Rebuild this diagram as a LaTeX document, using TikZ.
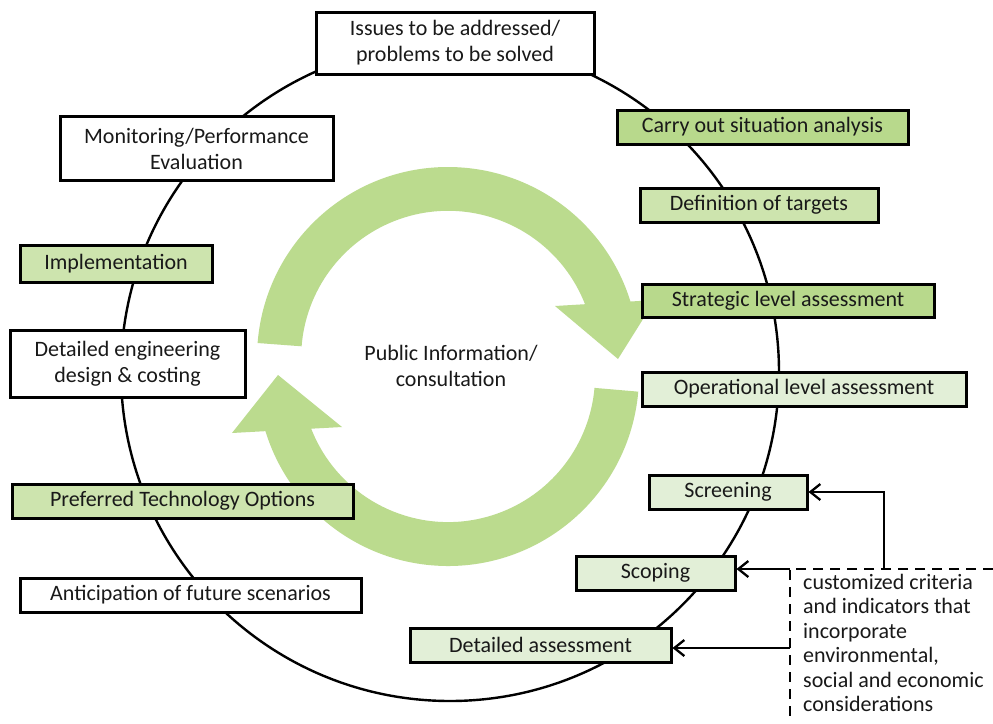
\documentclass[tikz,border=0pt]{standalone}
\usepackage{fontspec}
\setmainfont{Carlito}
\usetikzlibrary{arrows.meta,calc}
\definecolor{gdark}{HTML}{B8D98C}
\definecolor{gmid}{HTML}{CDE4AE}
\definecolor{glight}{HTML}{E2EFD7}
\definecolor{ringc}{HTML}{BBDB8E}
\tikzset{
  box/.style={draw=black, line width=3pt, inner sep=0pt, align=center,
    font=\fontsize{22}{26}\selectfont, text=black!90},
  conn/.style={draw=black, line width=2.3pt, -{Straight Barb[length=10pt,width=16pt,line width=2.3pt]}},
  dline/.style={draw=black, line width=2.3pt, dash pattern=on 10pt off 7pt},
}
\begin{document}
\begin{tikzpicture}[x=1pt,y=-1pt]
\useasboundingbox (0,0) rectangle (993,723);
\fill[white] (0,0) rectangle (993,723);
% big cycle
\draw[line width=2.4pt] (450,372) circle[radius=329];
% green ring arrows
\fill[ringc] ($(448,358)+(184.5:191)$) arc[start angle=184.5, end angle=342.8, radius=191]
  -- (655,300) -- (618,359) -- (555,306) -- (585,304.2)
  arc[start angle=338.6, end angle=184.5, radius=147] -- cycle;
\fill[ringc] ($(448,375)+(5:191)$) arc[start angle=5, end angle=162.9, radius=191]
  -- (232,433) -- (278,375) -- (342,427) -- (311.2,428.7)
  arc[start angle=158.6, end angle=5, radius=147] -- cycle;
\node[align=center, font=\fontsize{22}{26}\selectfont, text=black!90] (pub) at (451,366) {Public Information/\\consultation};
% boxes
\node[box, fill=white, minimum width=278pt, minimum height=62pt] (issues) at (455,43) {Issues to be addressed/\\problems to be solved};
\node[box, fill=gdark, minimum width=291pt, minimum height=34pt] (carry) at (762.5,127) {Carry out situation analysis};
\node[box, fill=gmid, minimum width=238pt, minimum height=34pt] (defn) at (759,205) {Definition of targets};
\node[box, fill=gdark, minimum width=292pt, minimum height=33pt] (strat) at (788,300.5) {Strategic level assessment};
\node[box, fill=glight, minimum width=324pt, minimum height=34pt] (oper) at (804,389) {Operational level assessment};
\node[box, fill=glight, minimum width=158pt, minimum height=34pt] (screen) at (728,492) {Screening};
\node[box, fill=glight, minimum width=159pt, minimum height=34pt] (scop) at (655.5,573) {Scoping};
\node[box, fill=glight, minimum width=261pt, minimum height=34pt] (detass) at (540.5,645) {Detailed assessment};
\node[box, fill=white, minimum width=341pt, minimum height=34pt] (antic) at (190.5,595) {Anticipation of future scenarios};
\node[box, fill=gmid, minimum width=341pt, minimum height=34pt] (pref) at (182.5,501) {Preferred Technology Options};
\node[box, fill=white, minimum width=235pt, minimum height=67pt] (deteng) at (127.5,363.5) {Detailed engineering\\design \& costing};
\node[box, fill=gmid, minimum width=192pt, minimum height=37pt] (impl) at (116,263.5) {Implementation};
\node[box, fill=white, minimum width=273pt, minimum height=64pt] (monit) at (196.5,148.5) {Monitoring/Performance\\Evaluation};
% criteria panel
\coordinate (dc) at (790,569);
\coordinate (dl) at (790,648);
\coordinate (sv) at (884,569);
\coordinate (dend) at (993,569);
\coordinate (dbot) at (790,723);
\draw[dline] (dend) -- (dc) -- (dbot);
\node[anchor=north west, align=left, inner sep=0pt, font=\fontsize{22}{24.5}\selectfont, text=black!90] (crit) at (803,574)
  {customized criteria\\and indicators that\\incorporate\\environmental,\\social and economic\\considerations};
\draw[conn] (sv) |- (screen.east);
\draw[conn] (dc) -- (dc -| scop.east);
\draw[conn] (dl) -- (dl -| detass.east);
\end{tikzpicture}
\end{document}
